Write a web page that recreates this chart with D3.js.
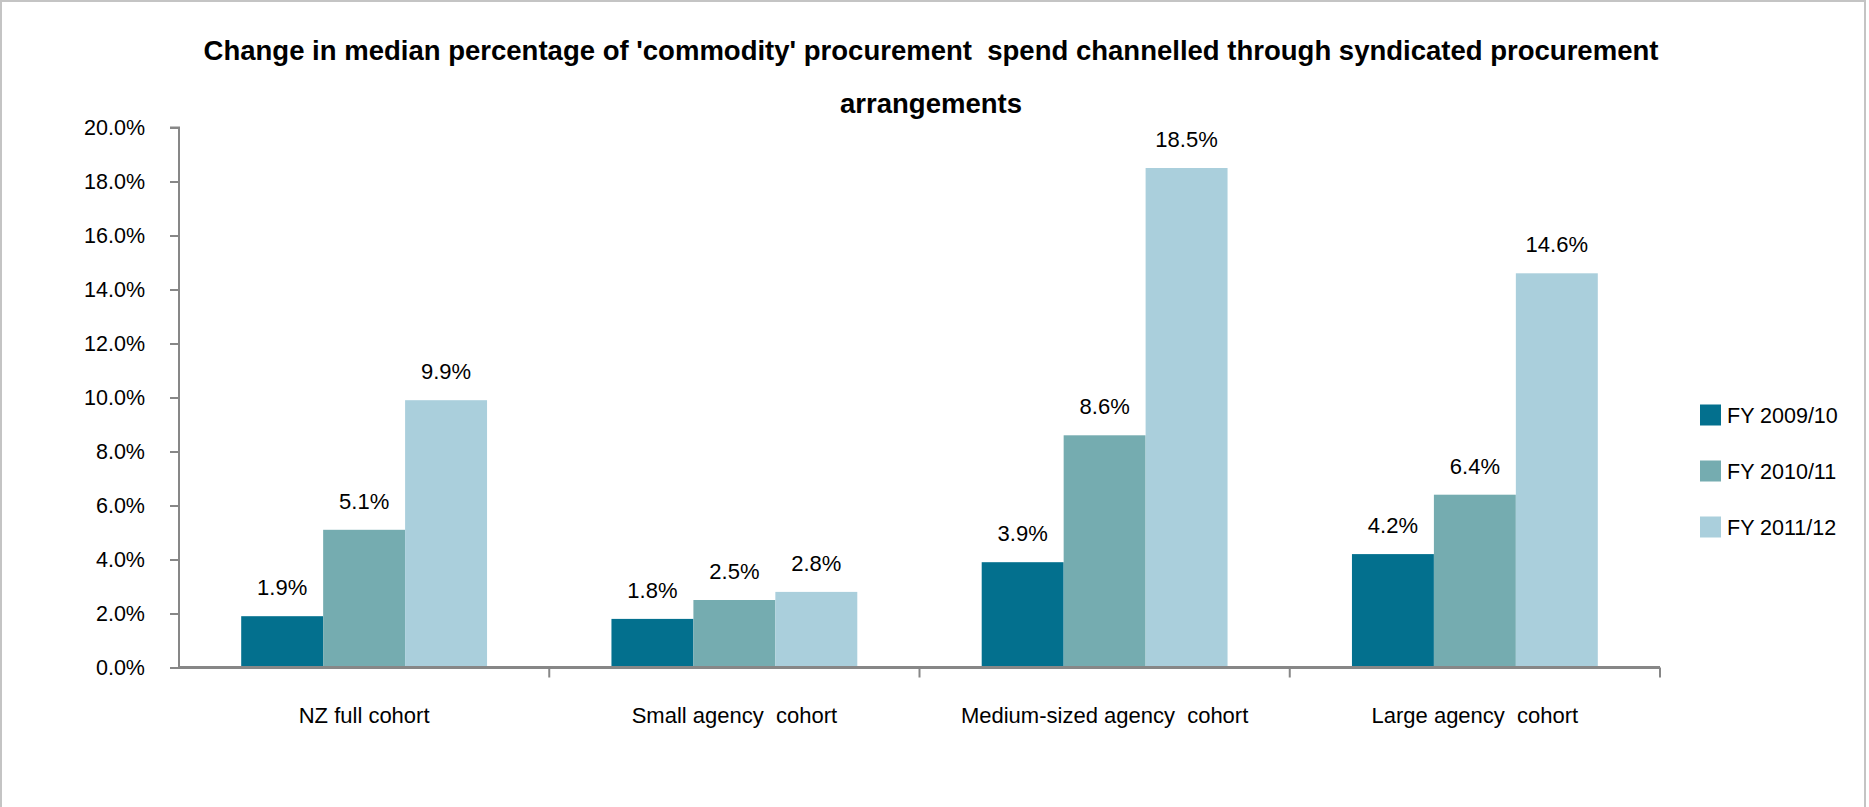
<!DOCTYPE html>
<html>
<head>
<meta charset="utf-8">
<script src="https://cdn.jsdelivr.net/npm/d3@7"></script>
<style>
  html, body { margin: 0; padding: 0; background: #fff; }
  svg { display: block; }
  text { font-family: Arial, "Liberation Sans", sans-serif; fill: #000; }
</style>
</head>
<body>
<svg id="chart" width="1869" height="807"></svg>
<script>
// Cohorts along the x axis
const categories = ["NZ full cohort", "Small agency  cohort", "Medium-sized agency  cohort", "Large agency  cohort"];
// Financial-year series
const seriesNames = ["FY 2009/10", "FY 2010/11", "FY 2011/12"];
// Median % of commodity spend via syndicated arrangements, per cohort
const fy0910 = [1.9, 1.8, 3.9, 4.2];
const fy1011 = [5.1, 2.5, 8.6, 6.4];
const fy1112 = [9.9, 2.8, 18.5, 14.6];
const yTicks = [0, 2, 4, 6, 8, 10, 12, 14, 16, 18, 20];
const titleLines = [
  "Change in median percentage of 'commodity' procurement  spend channelled through syndicated procurement",
  "arrangements"
];
const colors = ["#03708E", "#75ACB0", "#AACFDC"];

const seriesValues = [fy0910, fy1011, fy1112];
const W = 1869, H = 807;
const svg = d3.select("#chart");

// Outer frame
svg.append("rect")
  .attr("x", 1).attr("y", 1).attr("width", W - 5).attr("height", H + 4)
  .attr("fill", "none").attr("stroke", "#c4c4c4").attr("stroke-width", 2);

const plot = { left: 179, right: 1660, top: 127.5, bottom: 667.5 };

const x0 = d3.scaleBand().domain(categories).range([plot.left, plot.right]).paddingInner(0.336).paddingOuter(0.168);
const x1 = d3.scaleBand().domain(seriesNames).range([0, x0.bandwidth()]);
const y = d3.scaleLinear().domain([0, 20]).range([plot.bottom, plot.top]);

// Title: first line sized to span the plot width
const title = svg.append("g");
titleLines.forEach((line, i) => {
  title.append("text")
    .attr("x", 931).attr("y", 60 + i * 53)
    .attr("text-anchor", "middle")
    .attr("font-weight", "bold")
    .attr("font-size", 22)
    .style("white-space", "pre")
    .text(line);
});
const first = title.select("text").node();
const fs = 22 * 1456 / first.getComputedTextLength();
title.selectAll("text").attr("font-size", fs);

// Bars
const groups = svg.append("g").selectAll("g")
  .data(categories)
  .join("g")
  .attr("transform", d => `translate(${x0(d)},0)`);

groups.selectAll("rect")
  .data((d, ci) => seriesNames.map((s, si) => ({ s, v: seriesValues[si][ci], si })))
  .join("rect")
  .attr("x", d => x1(d.s))
  .attr("width", x1.bandwidth())
  .attr("y", d => y(d.v))
  .attr("height", d => y(0) - y(d.v))
  .attr("fill", d => colors[d.si]);

// Value labels
groups.selectAll("text.val")
  .data((d, ci) => seriesNames.map((s, si) => ({ s, v: seriesValues[si][ci] })))
  .join("text")
  .attr("class", "val")
  .attr("x", d => x1(d.s) + x1.bandwidth() / 2)
  .attr("y", d => y(d.v) - 21)
  .attr("text-anchor", "middle")
  .attr("font-size", 22)
  .text(d => d.v.toFixed(1) + "%");

// Y axis
const yAxis = d3.axisLeft(y).tickValues(yTicks).tickSize(9).tickPadding(25)
  .tickFormat(d => d.toFixed(1) + "%");
const gy = svg.append("g").attr("transform", `translate(${plot.left},0)`).call(yAxis);
gy.select(".domain").attr("stroke", "#878787").attr("stroke-width", 2).attr("d", `M-9,${plot.top}H0V${plot.bottom}`);
gy.selectAll(".tick line").attr("stroke", "#878787").attr("stroke-width", 2);
gy.selectAll(".tick text").attr("font-size", 21.5).attr("fill", "#000")
  .attr("font-family", "Arial, 'Liberation Sans', sans-serif");

// X axis: ticks sit between categories
const gx = svg.append("g").attr("transform", `translate(0,${plot.bottom})`);
gx.append("line").attr("x1", plot.left - 1).attr("x2", plot.right)
  .attr("stroke", "#878787").attr("stroke-width", 3);
const boundaries = d3.range(1, categories.length + 1).map(i => plot.left + (plot.right - plot.left) * i / categories.length);
gx.selectAll("line.tk").data(boundaries).join("line")
  .attr("class", "tk")
  .attr("x1", d => d).attr("x2", d => d)
  .attr("y1", 0).attr("y2", 10)
  .attr("stroke", "#878787").attr("stroke-width", 2);
gx.selectAll("text").data(categories).join("text")
  .attr("x", d => x0(d) + x0.bandwidth() / 2)
  .attr("y", 55)
  .attr("text-anchor", "middle")
  .attr("font-size", 22)
  .style("white-space", "pre")
  .text(d => d);

// Legend
const legend = svg.append("g").attr("transform", "translate(1700,415)");
const li = legend.selectAll("g").data(seriesNames).join("g")
  .attr("transform", (d, i) => `translate(0,${i * 56})`);
li.append("rect").attr("x", 0).attr("y", -10.5).attr("width", 21).attr("height", 21)
  .attr("fill", (d, i) => colors[i]);
li.append("text").attr("x", 27).attr("y", 7.5).attr("font-size", 21.5).text(d => d);
</script>
</body>
</html>
